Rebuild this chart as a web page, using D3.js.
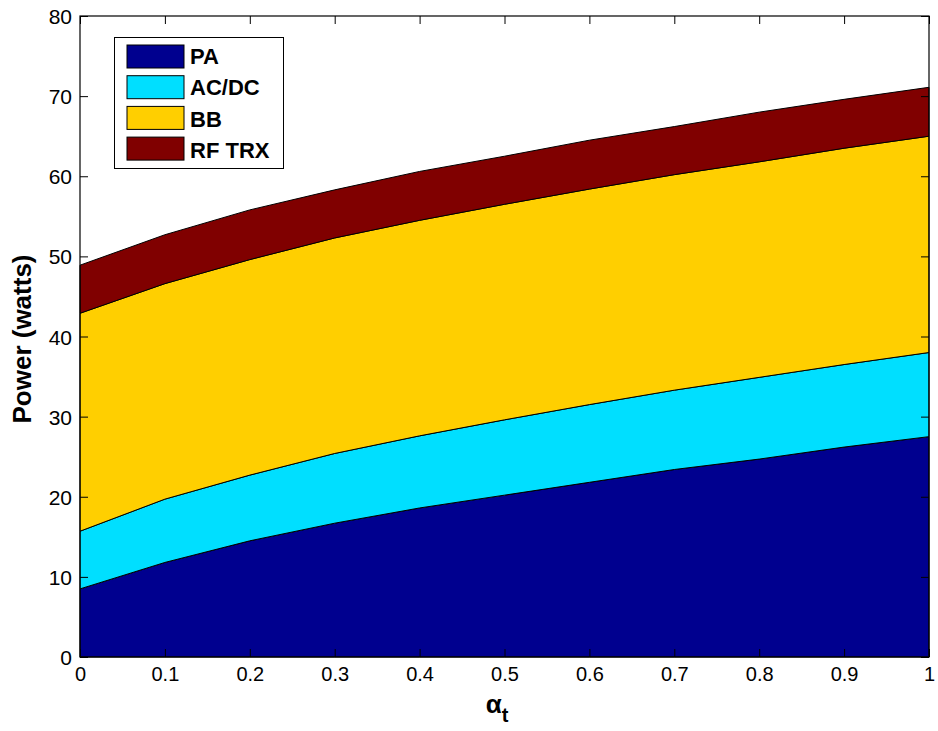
<!DOCTYPE html>
<html><head><meta charset="utf-8">
<script src="https://cdn.jsdelivr.net/npm/d3@7/dist/d3.min.js"></script>
<style>body{margin:0;background:#fff;} svg{display:block;}</style>
</head><body>
<svg id="chart" width="938" height="731"></svg>
<script>
const alphaT = [0, 0.1, 0.2, 0.3, 0.4, 0.5, 0.6, 0.7, 0.8, 0.9, 1];
const PA    = [8.5, 11.8, 14.5, 16.7, 18.6, 20.2, 21.8, 23.4, 24.7, 26.2, 27.5];
const ACDC  = [7.2, 7.9, 8.2, 8.7, 9.0, 9.4, 9.7, 9.9, 10.2, 10.3, 10.5];
const BB    = [27.2, 26.9, 26.9, 26.9, 26.9, 26.9, 26.9, 26.9, 26.9, 27.0, 27.0];
const RFTRX = [6.0, 6.1, 6.2, 6.0, 6.1, 6.0, 6.1, 6.0, 6.2, 6.1, 6.1];
const seriesNames = ["PA", "AC/DC", "BB", "RF TRX"];
const seriesColors = ["#00008f", "#00dfff", "#ffcf00", "#800000"];
const xTicks = [0, 0.1, 0.2, 0.3, 0.4, 0.5, 0.6, 0.7, 0.8, 0.9, 1];
const yTicks = [0, 10, 20, 30, 40, 50, 60, 70, 80];

const svg = d3.select("#chart");
const FONT = "Liberation Sans, Arial, Helvetica, sans-serif";
const L = 80, R = 929, T = 16, B = 657;
const x = d3.scaleLinear().domain([0, 1]).range([L, R]);
const y = d3.scaleLinear().domain([0, 80]).range([B, T]);

const table = alphaT.map((a, i) => ({a, PA: PA[i], "AC/DC": ACDC[i], BB: BB[i], "RF TRX": RFTRX[i]}));
const stack = d3.stack().keys(seriesNames)(table);
const area = d3.area().x(d => x(d.data.a)).y0(d => y(d[0])).y1(d => y(d[1]));

svg.append("g").selectAll("path").data(stack).join("path")
  .attr("d", area)
  .attr("fill", (d, i) => seriesColors[i])
  .attr("stroke", "#000").attr("stroke-width", 1).attr("stroke-linejoin", "round");

// axes (MATLAB style: inward ticks on all sides)
const tickLen = 8;
const fmt = d => d3.format("")(d);
const axL = svg.append("g").attr("transform", `translate(${L},0)`)
  .call(d3.axisLeft(y).tickValues(yTicks).tickSizeInner(-tickLen).tickSizeOuter(0).tickPadding(8).tickFormat(fmt));
const axR = svg.append("g").attr("transform", `translate(${R},0)`)
  .call(d3.axisRight(y).tickValues(yTicks).tickSizeInner(-tickLen).tickSizeOuter(0).tickFormat(""));
const axB = svg.append("g").attr("transform", `translate(0,${B})`)
  .call(d3.axisBottom(x).tickValues(xTicks).tickSizeInner(-tickLen).tickSizeOuter(0).tickPadding(10).tickFormat(fmt));
const axT = svg.append("g").attr("transform", `translate(0,${T})`)
  .call(d3.axisTop(x).tickValues(xTicks).tickSizeInner(-tickLen).tickSizeOuter(0).tickFormat(""));
[axL, axR, axB, axT].forEach(g => {
  g.select(".domain").remove();
  g.selectAll("line").attr("stroke", "#000").attr("stroke-width", 1);
  g.selectAll("text").attr("font-family", FONT).attr("fill", "#000");
});
axL.selectAll("text").attr("font-size", 21).attr("dy", "0.36em");
axB.selectAll("text").attr("font-size", 20).attr("dy", "0.72em");
// frame
svg.append("rect").attr("x", L).attr("y", T).attr("width", R - L).attr("height", B - T)
  .attr("fill", "none").attr("stroke", "#000").attr("stroke-width", 1.2);

// axis labels
svg.append("text").attr("transform", "translate(31,339) rotate(-90)")
  .attr("text-anchor", "middle").attr("font-family", FONT)
  .attr("font-weight", "bold").attr("font-size", 26).text("Power (watts)");
const xl = svg.append("text").attr("x", 497).attr("y", 713)
  .attr("text-anchor", "middle").attr("font-family", FONT)
  .attr("font-weight", "bold").attr("font-size", 26);
xl.append("tspan").text("α");
xl.append("tspan").attr("dy", 9).attr("font-size", 20).text("t");

// legend
const lg = svg.append("g");
lg.append("rect").attr("x", 114.5).attr("y", 37.5).attr("width", 169).attr("height", 131)
  .attr("fill", "#fff").attr("stroke", "#000").attr("stroke-width", 1);
seriesNames.forEach((n, i) => {
  const yy = 45 + i * 30.7;
  lg.append("rect").attr("x", 127).attr("y", yy).attr("width", 57).attr("height", 23)
    .attr("fill", seriesColors[i]).attr("stroke", "#000").attr("stroke-width", 1);
  lg.append("text").attr("x", 190).attr("y", yy + 19 + i * 0.6)
    .attr("font-family", FONT).attr("font-weight", "bold")
    .attr("font-size", 22).text(n);
});
</script>
</body></html>
